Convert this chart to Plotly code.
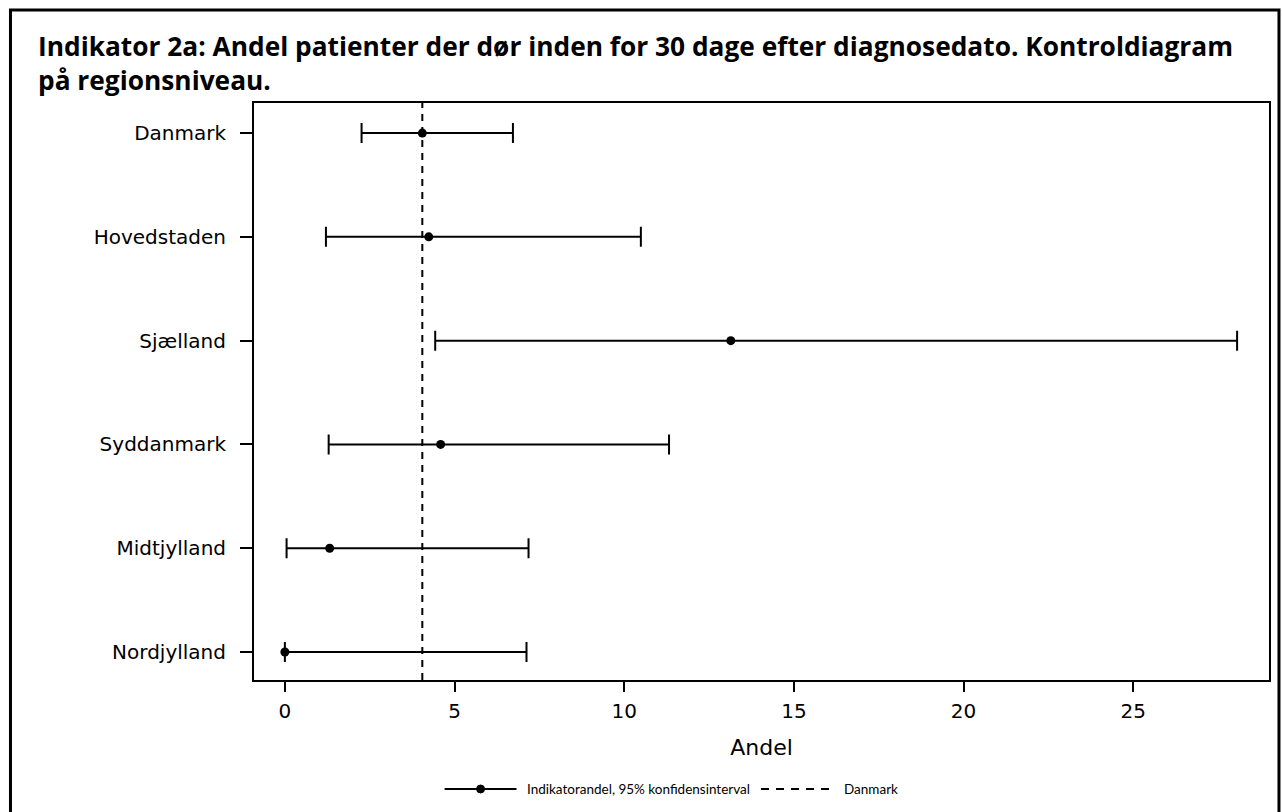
import plotly.graph_objects as go

# Regions and their indicator share (%) with 95% confidence limits
regions = ["Danmark", "Hovedstaden", "Sjælland", "Syddanmark", "Midtjylland", "Nordjylland"]
andel = [4.05, 4.24, 13.14, 4.59, 1.32, 0.0]
lower = [2.26, 1.21, 4.43, 1.29, 0.05, 0.0]
upper = [6.72, 10.49, 28.06, 11.32, 7.18, 7.12]

# National reference level
danmark_ref = 4.05

x_ticks = [0, 5, 10, 15, 20, 25]

title_lines = [
    "Indikator 2a: Andel patienter der dør inden for 30 dage efter diagnosedato. Kontroldiagram",
    "på regionsniveau.",
]
x_title = "Andel"
legend_ci = "Indikatorandel, 95% konfidensinterval"
legend_ref = "Danmark"

TICK_FONT = "DejaVu Sans"
TITLE_FONT = "Open Sans"
TEXT_FONT = "Lato"

y_pos = list(range(len(regions)))

fig = go.Figure()

fig.add_trace(go.Scatter(
    x=andel,
    y=y_pos,
    mode="markers",
    marker=dict(color="black", size=9, symbol="circle"),
    error_x=dict(
        type="data",
        symmetric=False,
        array=[u - a for u, a in zip(upper, andel)],
        arrayminus=[a - l for a, l in zip(andel, lower)],
        color="black",
        thickness=2,
        width=10,
    ),
    showlegend=False,
    hoverinfo="skip",
))

# plot-area geometry in pixels, used to place legend and frame pieces
plot_left, plot_w = 254, 1017
plot_bottom, plot_h = 680, 577


def px_x(px):
    return (px - plot_left) / plot_w


def px_y(py):
    return (plot_bottom - py) / plot_h


shapes = []
# dashed reference line spanning the plot height
shapes.append(dict(
    type="line", xref="x", yref="paper",
    x0=danmark_ref, x1=danmark_ref, y0=0, y1=1,
    line=dict(color="black", width=2, dash="7px,6px"),
    layer="below",
))

# outer frame around the whole graphic
shapes.append(dict(
    type="rect", xref="paper", yref="paper",
    x0=px_x(10), x1=px_x(1281), y0=px_y(830), y1=px_y(10),
    line=dict(color="black", width=3),
    fillcolor="rgba(0,0,0,0)",
))

# custom legend: CI line with marker, and dashed reference line
leg_y = px_y(789)
shapes.append(dict(
    type="line", xref="paper", yref="paper",
    x0=px_x(445), x1=px_x(517), y0=leg_y, y1=leg_y,
    line=dict(color="black", width=2),
))
shapes.append(dict(
    type="circle", xref="paper", yref="paper",
    x0=px_x(477), x1=px_x(485), y0=px_y(793), y1=px_y(785),
    line=dict(color="black", width=1), fillcolor="black",
))
shapes.append(dict(
    type="line", xref="paper", yref="paper",
    x0=px_x(762), x1=px_x(835), y0=leg_y, y1=leg_y,
    line=dict(color="black", width=2, dash="8px,7px"),
))

annotations = [
    # two-line bold heading
    dict(
        text="<b>" + "<br>".join(title_lines) + "</b>", xref="paper", yref="paper",
        x=px_x(36), y=px_y(26), xanchor="left", yanchor="top", align="left",
        showarrow=False, font=dict(family=TITLE_FONT, size=26.3, color="black"),
    ),
    dict(
        text=legend_ci, xref="paper", yref="paper",
        x=px_x(526), y=leg_y, xanchor="left", yanchor="middle",
        showarrow=False, font=dict(family=TEXT_FONT, size=13.5, color="black"),
    ),
    dict(
        text=legend_ref, xref="paper", yref="paper",
        x=px_x(843), y=leg_y, xanchor="left", yanchor="middle",
        showarrow=False, font=dict(family=TEXT_FONT, size=13.5, color="black"),
    ),
]

fig.update_layout(
    width=1282,
    height=812,
    margin=dict(l=254, r=11, t=103, b=132),
    paper_bgcolor="white",
    plot_bgcolor="white",
    xaxis=dict(
        range=[-0.91, 29.0],
        tickvals=x_ticks,
        ticktext=[str(t) for t in x_ticks],
        ticks="outside", ticklen=10, tickwidth=2, tickcolor="black",
        ticklabelstandoff=2,
        showline=True, linecolor="black", linewidth=2, mirror=True,
        showgrid=False, zeroline=False,
        tickfont=dict(family=TICK_FONT, size=20, color="black"),
        title=dict(text=x_title, standoff=18,
                   font=dict(family=TICK_FONT, size=22, color="black")),
    ),
    yaxis=dict(
        range=[len(regions) - 1 + 0.27, -0.29],
        tickvals=y_pos,
        ticktext=regions,
        ticks="outside", ticklen=12, tickwidth=2, tickcolor="black",
        ticklabelstandoff=10,
        showline=True, linecolor="black", linewidth=2, mirror=True,
        showgrid=False, zeroline=False,
        tickfont=dict(family=TICK_FONT, size=20, color="black"),
    ),
    shapes=shapes,
    annotations=annotations,
    showlegend=False,
)

fig.write_html("out.html")
